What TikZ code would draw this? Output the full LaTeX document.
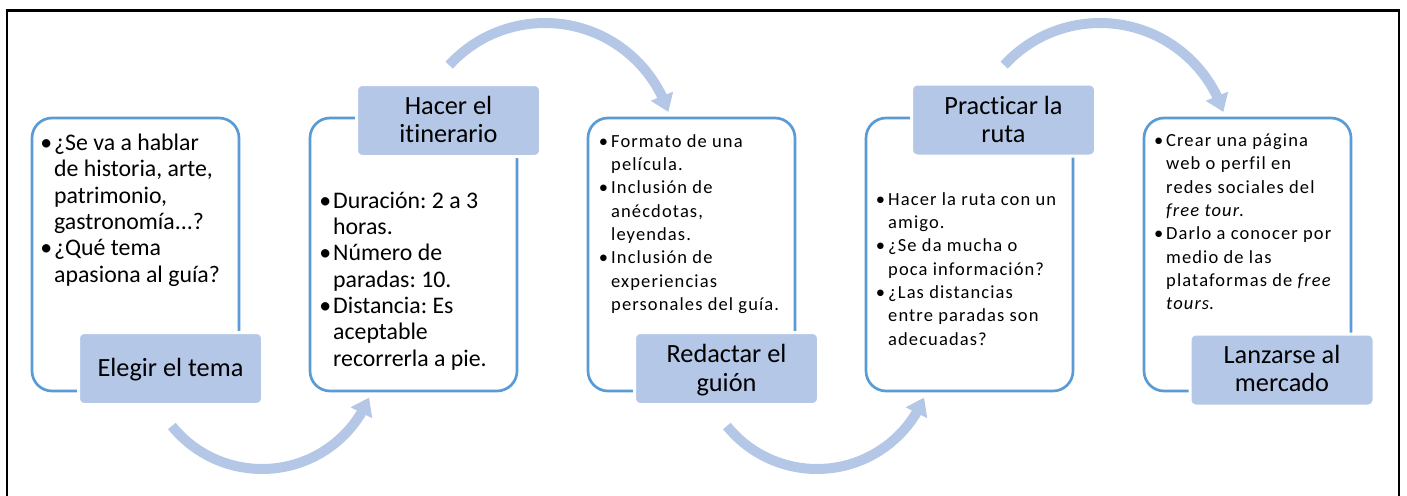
\documentclass[tikz,border=0pt]{standalone}
\usepackage{fontspec}
\setmainfont[Ligatures={NoCommon}]{Carlito}
\newfontfamily\spc[LetterSpace=6,Ligatures={NoCommon}]{Carlito}
\usetikzlibrary{arrows.meta,bending}
\definecolor{outl}{HTML}{5B9BD5}
\definecolor{labfill}{HTML}{B4C7E7}
\definecolor{arrc}{HTML}{B4C7E7}
\frenchspacing
\newcommand\bi[2][2pt]{\hbox{\llap{\textbullet\kern#1}#2}}
\newcommand\cont[1]{\hbox{#1}}
\newcommand\ctr[1]{\hbox to 181pt{\hfil#1\hfil}}
\tikzset{
  framebox/.style={draw=outl, line width=2.7pt, rounded corners=20pt, minimum width=207pt, minimum height=273pt, inner sep=0pt},
  labbox/.style={fill=labfill, draw=white, line width=3pt, rounded corners=6pt, minimum width=184pt, minimum height=72pt, inner sep=0pt},
  bigtxt/.style={inner sep=0pt, anchor=base west, font=\frenchspacing\fontsize{23.8}{26.35}\selectfont},
  smtxt/.style={inner sep=0pt, anchor=base west, font=\frenchspacing\spc\fontsize{18.5}{23.35}\selectfont},
  labtxt/.style={inner sep=0pt, anchor=base, font=\fontsize{26.3}{28.3}\selectfont},
  flow/.style={draw=arrc, line width=10pt, -{Triangle[length=17pt,width=23pt]}}
}
\begin{document}
\begin{tikzpicture}[x=1pt,y=-1pt]
\useasboundingbox (0,0) rectangle (1407,495);
\draw[line width=2.5pt] (7,500) -- (7,10.5) -- (1399,10.5) -- (1399,500);

% arc centres
\coordinate (c1) at (262,353);
\coordinate (c2) at (545,153);
\coordinate (c3) at (817,353);
\coordinate (c4) at (1100,153);

% outline boxes
\node[framebox] (b1) at (135.5,254.5) {};
\node[framebox] (b2) at (413.5,254.5) {};
\node[framebox] (b3) at (691.5,254.5) {};
\node[framebox] (b4) at (969.5,254.5) {};
\node[framebox] (b5) at (1247.5,254.5) {};

% label boxes
\node[labbox] (l1) at (170.5,368.5) {};
\node[labbox] (l2) at (448.5,120.5) {};
\node[labbox] (l3) at (726.5,368.5) {};
\node[labbox] (l4) at (1003.5,120) {};
\node[labbox] (l5) at (1282,370) {};

% label texts
\node[labtxt] (lt1) at (170.5,376.7) {\vtop{\ctr{Elegir el tema}}};
\node[labtxt] (lt2) at (448.5,114) {\vtop{\ctr{Hacer el}\ctr{itinerario}}};
\node[labtxt] (lt3) at (726.5,362.7) {\vtop{\ctr{Redactar el}\ctr{guión}}};
\node[labtxt] (lt4) at (1003.5,114) {\vtop{\ctr{Practicar la}\ctr{ruta}}};
\node[labtxt] (lt5) at (1282,363.3) {\vtop{\ctr{Lanzarse al}\ctr{mercado}}};

% body texts
\node[bigtxt] (t1) at (54,150.5) {\vtop{%
  \bi{¿Se va a hablar}\cont{de historia, arte,}\cont{patrimonio,}\cont{gastronomía...?}%
  \bi{¿Qué tema}\cont{apasiona al guía?}}};
\node[bigtxt] (t2) at (333,208) {\vtop{%
  \bi{Duración: 2 a 3}\cont{horas.}%
  \bi{Número de}\cont{paradas: 10.}%
  \bi{Distancia: Es}\cont{aceptable}\cont{recorrerla a pie.}}};
\node[smtxt] (t3) at (611,147) {\vtop{%
  \bi[3pt]{Formato de una}\cont{película.}%
  \bi[3pt]{Inclusión de}\cont{anécdotas,}\cont{leyendas.}%
  \bi[3pt]{Inclusión de}\cont{experiencias}\cont{personales del guía.}}};
\node[smtxt] (t4) at (888,205) {\vtop{%
  \bi[3pt]{Hacer la ruta con un}\cont{amigo.}%
  \bi[3pt]{¿Se da mucha o}\cont{poca información?}%
  \bi[3pt]{¿Las distancias}\cont{entre paradas son}\cont{adecuadas?}}};
\node[smtxt] (t5) at (1166,146.5) {\vtop{%
  \bi[3pt]{Crear una página}\cont{web o perfil en}\cont{redes sociales del}\cont{\textit{free tour}.}%
  \bi[3pt]{Darlo a conocer por}\cont{medio de las}\cont{plataformas de \textit{free}}\cont{\textit{tours}.}}};

% arrows
\draw[flow] ([shift={(141:116)}]c1) arc[start angle=141, end angle=22.6, radius=116];
\draw[flow] ([shift={(-137.5:130)}]c2) arc[start angle=-137.5, end angle=-18.4, radius=130];
\draw[flow] ([shift={(141:116)}]c3) arc[start angle=141, end angle=22.6, radius=116];
\draw[flow] ([shift={(-137.5:130)}]c4) arc[start angle=-137.5, end angle=-18.4, radius=130];
\end{tikzpicture}
\end{document}
